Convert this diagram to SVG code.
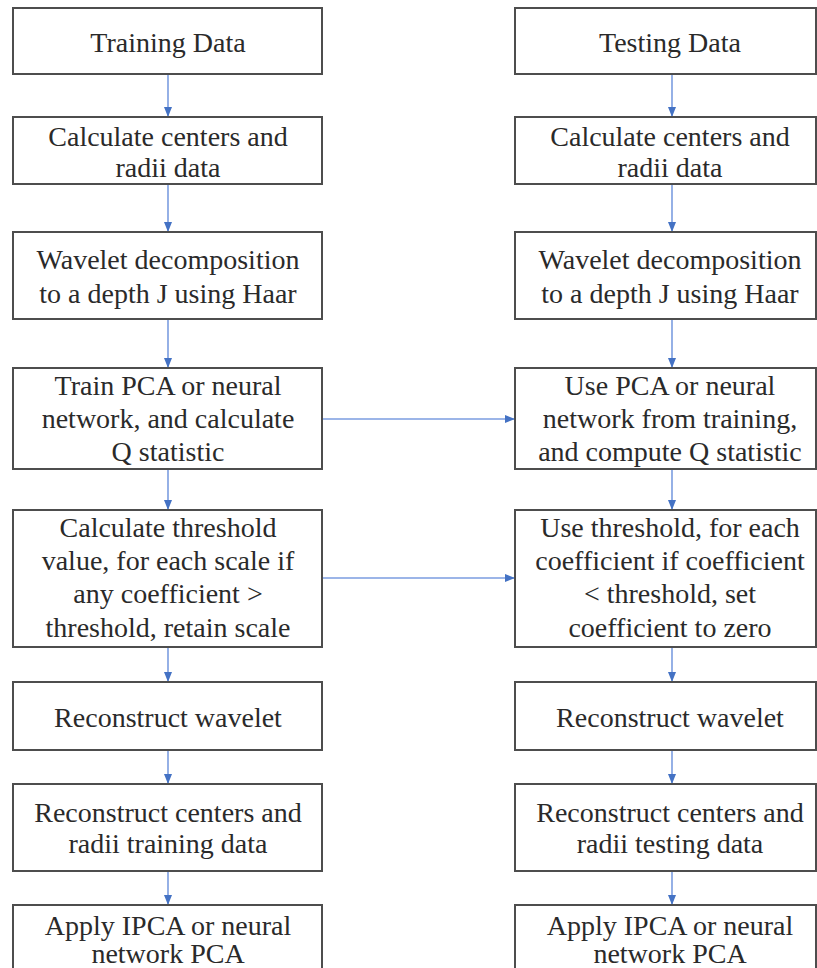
<svg xmlns="http://www.w3.org/2000/svg" width="817" height="968" viewBox="0 0 817 968">
<style>
.box{fill:#fff;stroke:#4d4d4d;stroke-width:2}
.t{font-family:"Liberation Serif",Tinos,"Times New Roman",Times,"Nimbus Roman","Nimbus Roman No9 L","Noto Serif",FreeSerif,"DejaVu Serif",serif;font-size:28px;fill:#2a2a2a;text-anchor:middle}
.c{stroke:#7b9de0;stroke-width:1.6;fill:none;marker-end:url(#ah)}
</style>
<defs>
<marker id="ah" markerUnits="userSpaceOnUse" markerWidth="10" markerHeight="10" viewBox="0 0 10 10" refX="10" refY="5" orient="auto">
<path d="M0,1 L10,5 L0,9 Z" fill="#4472c4"/>
</marker>
</defs>
<rect width="817" height="968" fill="#fff"/>
<g id="connectors">
<line class="c" x1="168" y1="74" x2="168" y2="117"/>
<line class="c" x1="168" y1="184" x2="168" y2="232"/>
<line class="c" x1="168" y1="319" x2="168" y2="368"/>
<line class="c" x1="168" y1="469" x2="168" y2="510"/>
<line class="c" x1="168" y1="647" x2="168" y2="682"/>
<line class="c" x1="168" y1="750" x2="168" y2="784"/>
<line class="c" x1="168" y1="871" x2="168" y2="905"/>
<line class="c" x1="672" y1="74" x2="672" y2="117"/>
<line class="c" x1="672" y1="184" x2="672" y2="232"/>
<line class="c" x1="672" y1="319" x2="672" y2="368"/>
<line class="c" x1="672" y1="469" x2="672" y2="510"/>
<line class="c" x1="672" y1="647" x2="672" y2="682"/>
<line class="c" x1="672" y1="750" x2="672" y2="784"/>
<line class="c" x1="672" y1="871" x2="672" y2="905"/>
<line class="c" x1="322" y1="419" x2="515" y2="419"/>
<line class="c" x1="322" y1="578" x2="515" y2="578"/>
</g>
<g id="train1"><rect class="box" x="13" y="8" width="309" height="66"/><text class="t" x="168" y="52">Training Data</text></g>
<g id="train2"><rect class="box" x="13" y="117" width="309" height="67"/><text class="t" x="168" y="146">Calculate centers and</text><text class="t" x="168" y="177">radii data</text></g>
<g id="train3"><rect class="box" x="13" y="232" width="309" height="87"/><text class="t" x="168" y="269">Wavelet decomposition</text><text class="t" x="168" y="303">to a depth J using Haar</text></g>
<g id="train4"><rect class="box" x="13" y="368" width="309" height="101"/><text class="t" x="168" y="395">Train PCA or neural</text><text class="t" x="168" y="428">network, and calculate</text><text class="t" x="168" y="461">Q statistic</text></g>
<g id="train5"><rect class="box" x="13" y="510" width="309" height="137"/><text class="t" x="168" y="537">Calculate threshold</text><text class="t" x="168" y="570">value, for each scale if</text><text class="t" x="168" y="603">any coefficient &gt;</text><text class="t" x="168" y="637">threshold, retain scale</text></g>
<g id="train6"><rect class="box" x="13" y="682" width="309" height="68"/><text class="t" x="168" y="727">Reconstruct wavelet</text></g>
<g id="train7"><rect class="box" x="13" y="784" width="309" height="87"/><text class="t" x="168" y="822">Reconstruct centers and</text><text class="t" x="168" y="853">radii training data</text></g>
<g id="train8"><rect class="box" x="13" y="905" width="309" height="80"/><text class="t" x="168" y="935">Apply IPCA or neural</text><text class="t" x="168" y="963">network PCA</text></g>
<g id="test1"><rect class="box" x="515" y="8" width="301" height="66"/><text class="t" x="670" y="52">Testing Data</text></g>
<g id="test2"><rect class="box" x="515" y="117" width="301" height="67"/><text class="t" x="670" y="146">Calculate centers and</text><text class="t" x="670" y="177">radii data</text></g>
<g id="test3"><rect class="box" x="515" y="232" width="301" height="87"/><text class="t" x="670" y="269">Wavelet decomposition</text><text class="t" x="670" y="303">to a depth J using Haar</text></g>
<g id="test4"><rect class="box" x="515" y="368" width="301" height="101"/><text class="t" x="670" y="395">Use PCA or neural</text><text class="t" x="670" y="428">network from training,</text><text class="t" x="670" y="461">and compute Q statistic</text></g>
<g id="test5"><rect class="box" x="515" y="510" width="301" height="137"/><text class="t" x="670" y="537">Use threshold, for each</text><text class="t" x="670" y="570">coefficient if coefficient</text><text class="t" x="670" y="603">&lt; threshold, set</text><text class="t" x="670" y="637">coefficient to zero</text></g>
<g id="test6"><rect class="box" x="515" y="682" width="301" height="68"/><text class="t" x="670" y="727">Reconstruct wavelet</text></g>
<g id="test7"><rect class="box" x="515" y="784" width="301" height="87"/><text class="t" x="670" y="822">Reconstruct centers and</text><text class="t" x="670" y="853">radii testing data</text></g>
<g id="test8"><rect class="box" x="515" y="905" width="301" height="80"/><text class="t" x="670" y="935">Apply IPCA or neural</text><text class="t" x="670" y="963">network PCA</text></g>
</svg>
